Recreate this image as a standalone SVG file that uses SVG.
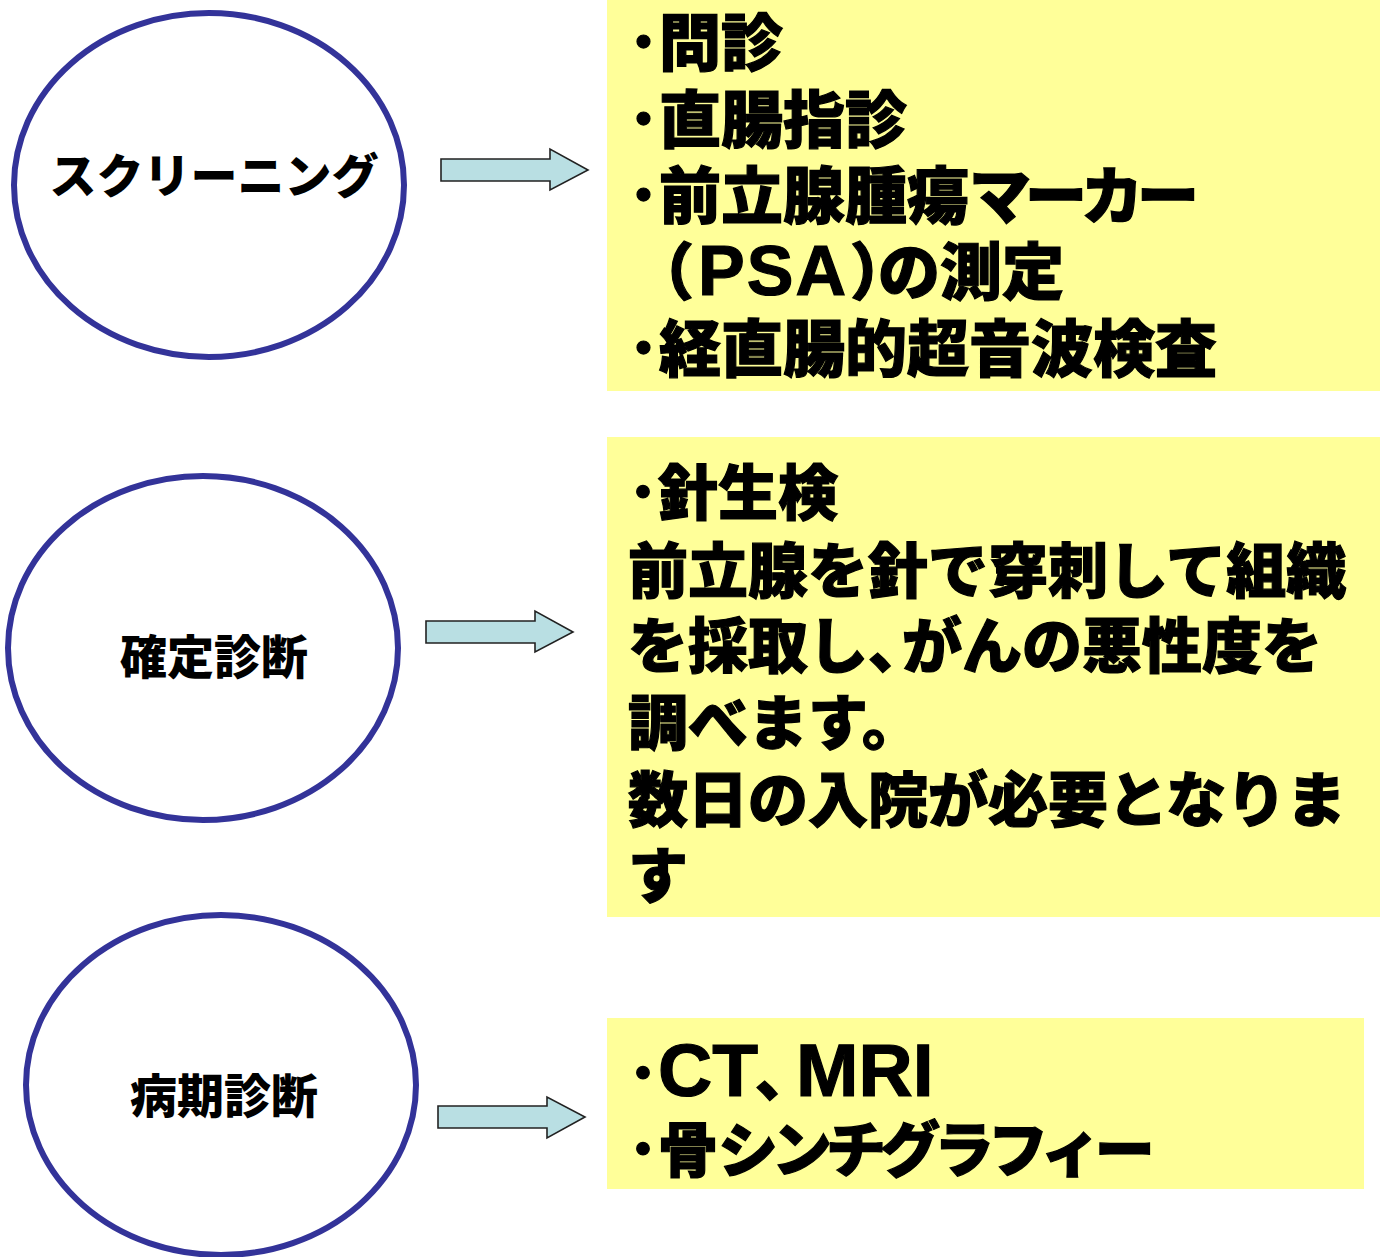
<svg xmlns="http://www.w3.org/2000/svg" width="1384" height="1257" viewBox="0 0 1384 1257">
<defs>
<style>
.stage{fill:#ffffff;stroke:#333399;stroke-width:6}
.box{fill:#ffff99}
.arrow{fill:#b9dfe3;stroke:#222222;stroke-width:1.6;stroke-linejoin:miter}
.lbl{font-family:"Noto Sans CJK JP","Noto Sans",sans-serif;font-weight:900;font-size:47px;fill:#000;text-anchor:middle}
.t{font-family:"Noto Sans CJK JP","Noto Sans",sans-serif;font-weight:900;font-size:60px;fill:#000;stroke:#000;stroke-width:1.2}
.big{font-size:62px}
.lat{font-family:"Liberation Sans",Arial,sans-serif;font-weight:bold}
.kana{letter-spacing:-6px}
</style>
</defs>
<rect width="1384" height="1257" fill="#ffffff"/>

<g id="stage-screening">
<ellipse class="stage" cx="209" cy="185" rx="195" ry="172"/>
<text class="lbl" x="214" y="193">スクリーニング</text>
</g>
<g id="stage-diagnosis">
<ellipse class="stage" cx="203" cy="648" rx="195" ry="172"/>
<text class="lbl" x="214" y="674">確定診断</text>
</g>
<g id="stage-staging">
<ellipse class="stage" cx="221" cy="1085" rx="195" ry="170"/>
<text class="lbl" x="224" y="1113">病期診断</text>
</g>

<g id="box-screening">
<rect class="box" x="607" y="0" width="773" height="391"/>
<text class="t big">
<tspan x="628" y="66">･問診</tspan>
<tspan x="628" y="143">･直腸指診</tspan>
<tspan x="628" y="219">･前立腺腫瘍</tspan><tspan class="kana">マーカー</tspan>
<tspan x="632" y="295">（</tspan><tspan class="lat" x="698" y="295" font-size="70" letter-spacing="2">PSA</tspan><tspan x="850" y="295">）</tspan><tspan x="878" y="295">の測定</tspan>
<tspan x="628" y="372">･経直腸的超音波検査</tspan>
</text>
</g>

<g id="box-diagnosis">
<rect class="box" x="607" y="437" width="773" height="480"/>
<text class="t">
<tspan x="628" y="515">･針生検</tspan>
<tspan x="628" y="593">前立腺を針で穿刺して組織</tspan>
<tspan x="628" y="668">を採取し、</tspan><tspan dx="-26">がんの悪性度を</tspan>
<tspan x="628" y="745">調べます。</tspan>
<tspan x="628" y="822">数日の入院が必要となりま</tspan>
<tspan x="628" y="898">す</tspan>
</text>
</g>

<g id="box-staging">
<rect class="box" x="607" y="1018" width="757" height="171"/>
<text class="t">
<tspan x="628" y="1096">･</tspan><tspan class="lat" x="658" y="1096" font-size="75">CT</tspan><tspan x="755" y="1096">、</tspan><tspan class="lat" x="796" y="1096" font-size="75">MRI</tspan>
<tspan x="628" y="1172">･骨</tspan><tspan class="kana" letter-spacing="-7">シンチグラフィー</tspan>
</text>
</g>

<g id="connectors">
<path class="arrow" d="M441,159 H550 V149 L588,170 L550,190 V181 H441 Z"/>
<path class="arrow" d="M426,621 H535 V611 L573,632 L535,652 V643 H426 Z"/>
<path class="arrow" d="M438,1106 H547 V1097 L585,1117 L547,1138 V1128 H438 Z"/>
</g>
</svg>
